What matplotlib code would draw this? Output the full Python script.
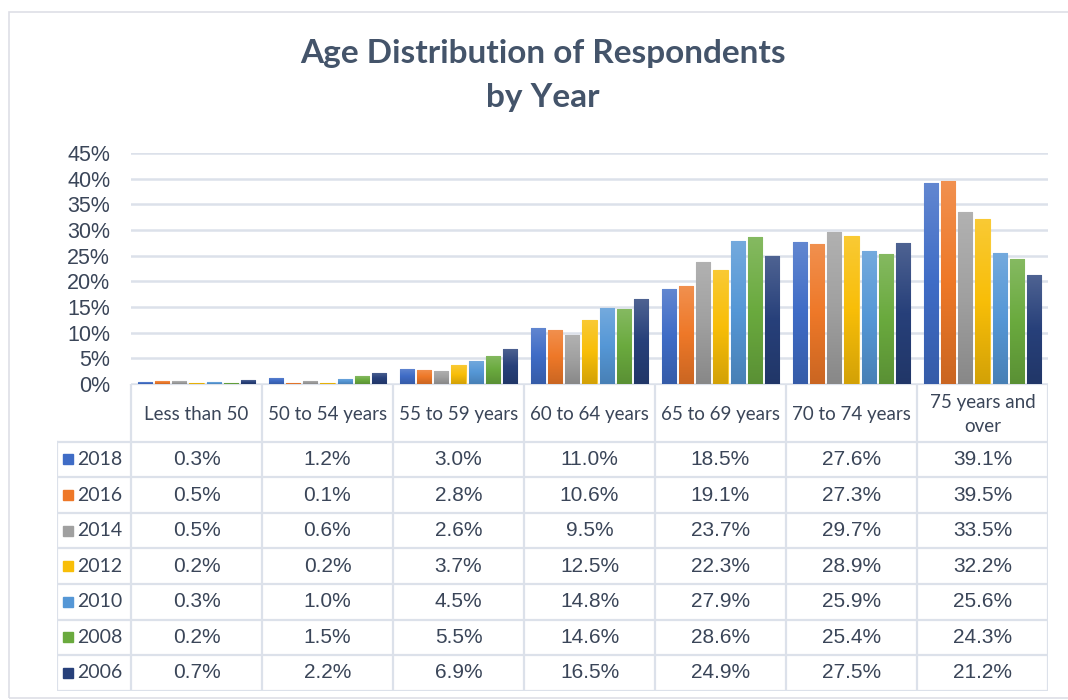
import numpy as np
import matplotlib
matplotlib.use('Agg')
import matplotlib.pyplot as plt
from matplotlib.colors import LinearSegmentedColormap, to_rgb
from matplotlib.patches import Rectangle

# data
categories = ['Less than 50', '50 to 54 years', '55 to 59 years', '60 to 64 years',
              '65 to 69 years', '70 to 74 years', '75 years and\nover']
years = ['2018', '2016', '2014', '2012', '2010', '2008', '2006']
pct_2018 = [0.3, 1.2, 3.0, 11.0, 18.5, 27.6, 39.1]
pct_2016 = [0.5, 0.1, 2.8, 10.6, 19.1, 27.3, 39.5]
pct_2014 = [0.5, 0.6, 2.6, 9.5, 23.7, 29.7, 33.5]
pct_2012 = [0.2, 0.2, 3.7, 12.5, 22.3, 28.9, 32.2]
pct_2010 = [0.3, 1.0, 4.5, 14.8, 27.9, 25.9, 25.6]
pct_2008 = [0.2, 1.5, 5.5, 14.6, 28.6, 25.4, 24.3]
pct_2006 = [0.7, 2.2, 6.9, 16.5, 24.9, 27.5, 21.2]
series = [pct_2018, pct_2016, pct_2014, pct_2012, pct_2010, pct_2008, pct_2006]
yticks = [0, 5, 10, 15, 20, 25, 30, 35, 40, 45]

COLORS = ['#3F6CC6', '#EE7828', '#A0A0A0', '#F8BE08', '#5597D6', '#6AAA3E', '#27407A']
TXT = '#3A4558'
GRID = '#DCE1EA'

W, H = 1068, 700
fig = plt.figure(figsize=(W / 100, H / 100), dpi=100)
fig.patch.set_facecolor('white')

def px(x0, y0, x1, y1):
    # pixel box -> figure fraction rect
    return [x0 / W, 1 - y1 / H, (x1 - x0) / W, (y1 - y0) / H]

# outer frame
fig.add_artist(Rectangle((9 / W, 1 - 698 / H), 1.0, (698 - 12) / H, transform=fig.transFigure,
                         fill=False, edgecolor='#DEDFE6', lw=1.2))

fig.text(543 / W, 1 - 53 / H, 'Age Distribution of Respondents', ha='center', va='center',
         fontsize=24, fontweight='bold', color='#44546A', family='Lato')
fig.text(543 / W, 1 - 98 / H, 'by Year', ha='center', va='center',
         fontsize=24, fontweight='bold', color='#44546A', family='Lato')

# ---- bar chart
ax = fig.add_axes(px(131, 153, 1048, 384))
ax.set_xlim(-0.5, 6.5)
ax.set_ylim(0, 45)
for s in ax.spines.values():
    s.set_visible(False)
ax.set_yticks(yticks)
ax.set_yticklabels(['%d%%' % t for t in yticks], fontsize=15.5, color=TXT, family='Liberation Sans')
ax.tick_params(axis='y', length=0, pad=15)
ax.set_xticks([])
ax.grid(axis='y', color=GRID, lw=1.8)
ax.set_axisbelow(True)

x = np.arange(len(categories))
step, bw = 0.13, 0.107
for i, (vals, col) in enumerate(zip(series, COLORS)):
    rgb = np.array(to_rgb(col))
    top = rgb + (1 - rgb) * 0.18
    bot = rgb * 0.85
    cmap = LinearSegmentedColormap.from_list('g%d' % i, [bot, rgb, top])
    bars = ax.bar(x + (i - 3) * step, vals, width=bw, color=col,
                  edgecolor=top, lw=0.8, zorder=2)
    grad = np.linspace(0, 1, 100).reshape(-1, 1)
    for b in bars:
        im = ax.imshow(grad, extent=[b.get_x(), b.get_x() + b.get_width(), 0, b.get_height()],
                       origin='lower', aspect='auto', cmap=cmap, zorder=2.5)
        im.set_clip_path(b)
ax.set_xlim(-0.5, 6.5)
ax.set_ylim(0, 45)

# ---- data table under the chart
row_h = 35.57
head_h = 57.7
leg_w = 74 / 131
tax = fig.add_axes(px(57, 384, 1048, 384 + head_h + 7 * row_h))
tax.set_xlim(-0.5 - leg_w, 6.5)
hh = head_h / row_h
tax.set_ylim(hh + 7, 0)
tax.axis('off')

lw = 1.6
for k in range(8):
    tax.plot([k - 0.5, k - 0.5], [0, hh + 7], color=GRID, lw=lw, solid_capstyle='butt')
tax.plot([-0.5 - leg_w] * 2, [hh, hh + 7], color=GRID, lw=lw)
tax.plot([-0.5, 6.5], [0, 0], color=GRID, lw=lw)
for r in range(8):
    tax.plot([-0.5 - leg_w, 6.5], [hh + r, hh + r], color=GRID, lw=lw)

for j, cat in enumerate(categories):
    tax.text(j, hh / 2 + 0.05, cat, ha='center', va='center', fontsize=13.5, color=TXT,
             family='Lato', linespacing=1.45)

for i, (yr, vals, col) in enumerate(zip(years, series, COLORS)):
    yc = hh + i + 0.5
    tax.plot(-0.5 - leg_w + 10.5 / 131, yc, marker='s', ms=7, color=col, mec=col)
    tax.text(-0.5 - leg_w + 20 / 131, yc, yr, ha='left', va='center', fontsize=14,
             color=TXT, family='Lato')
    for j, v in enumerate(vals):
        tax.text(j, yc, '%.1f%%' % v, ha='center', va='center', fontsize=15,
                 color=TXT, family='Liberation Sans')

fig.savefig('out.png', dpi=100)
